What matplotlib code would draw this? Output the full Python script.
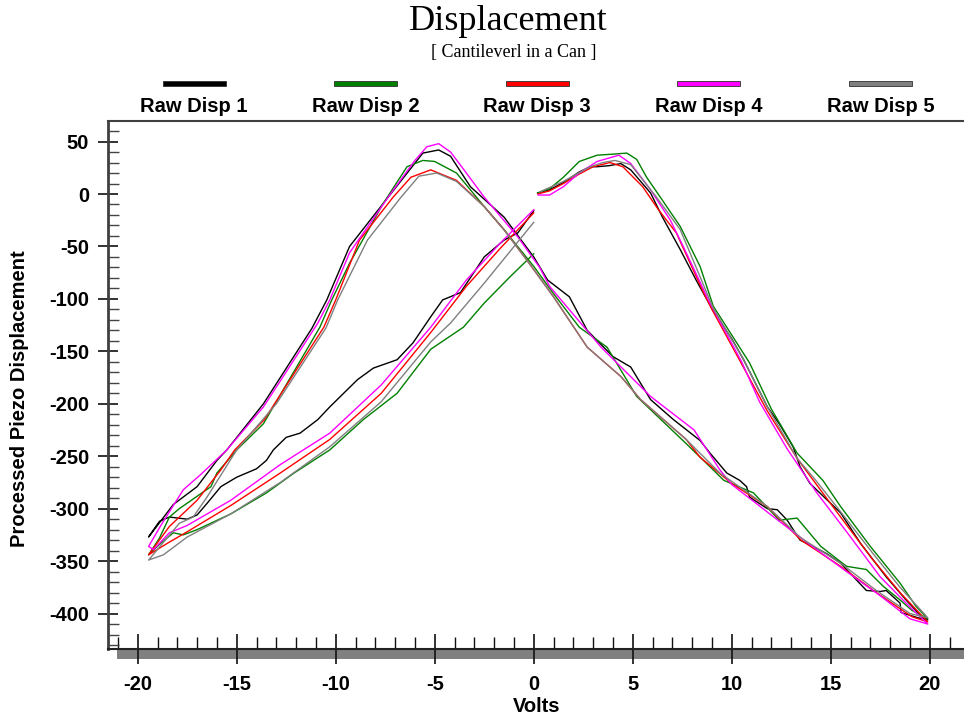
import matplotlib.pyplot as plt
from matplotlib.patches import Rectangle
from matplotlib.ticker import MultipleLocator

plt.rcParams["axes.unicode_minus"] = False

# each run sweeps 0 -> +20 V -> -19.5 V -> 0
labels = ["Raw Disp 1", "Raw Disp 2", "Raw Disp 3", "Raw Disp 4", "Raw Disp 5"]
colors = ["#000000", "#008000", "#ff0000", "#ff00ff", "#808080"]

volts_1 = [0.2, 0.8, 1.5, 2.3, 2.85, 3.2, 3.8, 4.4, 4.9, 5.9, 6.5, 7.4, 8.2, 9.05, 10.0, 10.6, 11.8, 12.4, 13.1,
           13.45, 13.95, 15.5, 16.5, 17.8, 18.8, 19.6, 19.9,
           19.4, 18.55, 18.5, 17.8, 17.5, 16.8, 15.5, 14.8, 14.0, 13.45, 12.8, 12.3, 11.8, 10.9, 10.75, 10.4, 9.75,
           8.9, 8.4, 7.05, 5.9, 4.9, 4.0, 2.7, 1.8, 0.7, 0.0, -1.5, -3.2, -4.2, -4.8, -5.6, -7.6, -9.3, -10.45,
           -11.2, -13.65, -15.5, -16.0, -17.0, -18.2, -19.45,
           -18.9, -18.4, -17.5, -17.0, -16.5, -15.8, -15.0, -14.0, -13.5, -13.15, -12.5, -11.8, -10.9, -10.3,
           -8.9, -8.1, -6.9, -6.1, -5.2, -4.6, -3.7, -2.5, -1.5, -0.8, 0.0]
disp_1 = [1, 4, 11, 21, 26, 26, 27, 29, 23, 1, -22, -53, -82, -111, -138, -158, -203, -219, -241,
          -260, -276, -304, -333, -365, -387, -403, -406,
          -404, -399, -390, -378, -379, -378, -352, -343, -335, -330, -311, -301, -300, -289, -279, -273, -266,
          -247, -235, -215, -196, -165, -155, -130, -98, -82, -60, -22, 7, 36, 42, 39, -9, -50, -101,
          -128, -200, -244, -254, -279, -296, -327,
          -312, -308, -310, -306, -295, -279, -270, -262, -254, -244, -232, -228, -215, -203,
          -177, -166, -158, -142, -117, -101, -94, -60, -44, -37, -16]

volts_2 = [0.2, 0.8, 1.5, 2.3, 3.2, 4.0, 4.7, 5.2, 5.7, 6.5, 7.4, 8.4, 9.07, 10.9, 12.0, 13.3, 14.6, 15.5, 17.0,
           18.5, 19.3, 19.9,
           19.1, 18.5, 17.65, 16.8, 15.8, 14.5, 13.3, 12.4, 11.1, 9.6, 8.9, 7.7, 5.2, 3.7, 2.3, 1.0, 0.0, -1.5,
           -2.5, -3.9, -5.0, -5.6, -6.4, -7.6, -9.3, -10.2, -10.8, -13.65, -15.0, -16.0, -16.3, -17.9, -18.4,
           -18.9, -19.45,
           -18.9, -18.2, -17.7, -17.0, -15.3, -13.5, -12.1, -10.3, -8.6, -6.9, -5.2, -3.55, -2.5, -1.2, 0.0]
disp_2 = [1, 5, 16, 31, 37, 38, 39, 33, 16, -6, -31, -69, -107, -161, -205, -247, -273, -298, -336,
          -371, -393, -405,
          -397, -387, -374, -358, -355, -336, -309, -311, -285, -273, -260, -238, -193, -146, -127, -95, -69, -34,
          -12, 20, 31, 32, 26, -9, -66, -101, -127, -219, -244, -266, -279, -300, -308,
          -328, -344,
          -334, -323, -325, -320, -305, -285, -266, -244, -215, -190, -148, -127, -104, -79, -57]

volts_3 = [0.2, 0.8, 1.5, 2.3, 3.0, 3.85, 4.5, 5.5, 6.3, 7.2, 8.6, 9.0, 10.5, 11.8, 13.3, 14.2, 15.5, 17.1, 18.5,
           19.9,
           19.1, 17.3, 15.5, 13.5, 11.8, 10.0, 8.4, 7.7, 5.4, 4.4, 2.7, 1.0, -0.35, -1.5, -2.5, -3.9, -5.2, -6.2,
           -7.1, -8.8, -10.0, -10.6, -13.6, -15.1, -15.8, -17.0, -18.4, -19.45,
           -18.5, -17.5, -15.3, -12.8, -10.3, -7.7, -5.2, -3.4, -1.7, 0.0]
disp_3 = [0, 3, 10, 19, 26, 30, 26, 7, -15, -37, -95, -110, -162, -207, -252, -275, -308, -348, -380,
          -408,
          -403, -380, -355, -330, -298, -276, -251, -234, -196, -174, -146, -98, -63, -34, -12, 13, 23, 16,
          -3, -44, -101, -127, -215, -244, -263, -292, -317, -344,
          -333, -322, -297, -266, -234, -190, -132, -88, -52, -18]

volts_4 = [0.23, 0.8, 1.5, 2.3, 3.2, 4.3, 4.9, 5.9, 6.9, 7.55, 8.9, 10.5, 11.4, 12.8, 14.3, 15.8, 17.5, 18.8,
           19.9,
           19.0, 17.5, 15.8, 14.0, 12.4, 11.1, 10.0, 9.4, 8.1, 5.9, 3.4, 0.8, 0.3, -0.8, -2.5, -3.6, -4.2, -4.8,
           -5.4, -6.0, -7.2, -9.3, -10.3, -10.9, -13.65, -15.5, -16.85, -17.7, -18.8, -19.45,
           -19.2, -18.4, -17.5, -15.3, -12.8, -10.3, -7.7, -5.2, -3.4, -1.7, 0.0]
disp_4 = [-1, -1, 7, 20, 31, 37, 29, 4, -25, -50, -104, -160, -198, -243, -285, -322, -365, -390,
          -410,
          -405, -383, -360, -335, -312, -293, -277, -263, -225, -193, -146, -88, -70, -41, -3, 25, 40, 48,
          45, 32, 1, -56, -101, -123, -203, -244, -268, -282, -315, -336,
          -339, -323, -316, -292, -258, -228, -182, -127, -82, -47, -15]

volts_5 = [0.3, 1.5, 2.85, 3.5, 4.1, 4.9, 6.2, 7.4, 9.07, 10.6, 11.8, 13.3, 14.2, 15.5, 17.1, 18.5, 19.9,
           19.0, 17.3, 15.5, 13.5, 11.8, 10.0, 9.4, 7.7, 5.4, 4.4, 2.7, 1.0, -0.35, -1.5, -2.5, -3.9, -4.9,
           -5.8, -6.7, -8.4, -9.9, -10.5, -13.0, -15.0, -16.5, -17.2, -17.9, -19.45,
           -18.7, -17.5, -15.3, -12.8, -10.3, -7.7, -5.2, -4.2, -2.5, 0.0]
disp_5 = [2, 12, 26, 30, 32, 28, -3, -34, -109, -158, -203, -252, -272, -303, -342, -375, -404,
          -400, -378, -352, -328, -298, -274, -266, -234, -196, -174, -146, -98, -63, -34, -12, 12, 20,
          17, -3, -44, -101, -128, -200, -244, -289, -308, -314, -349,
          -344, -327, -305, -275, -241, -198, -141, -123, -85, -27]

volts = [volts_1, volts_2, volts_3, volts_4, volts_5]
disps = [disp_1, disp_2, disp_3, disp_4, disp_5]

W, H = 964, 717
fig = plt.figure(figsize=(W / 100, H / 100), dpi=100)
ax = fig.add_axes([108 / W, 1 - 649 / H, 856 / W, 528 / H])

for v, d, c in zip(volts, disps, colors):
    ax.plot(v, d, color=c, lw=1.0)

ax.set_xlim(-21.5, 21.73)
ax.set_ylim(-433.8, 69.6)

ax.xaxis.set_major_locator(MultipleLocator(5))
ax.xaxis.set_minor_locator(MultipleLocator(1))
ax.yaxis.set_major_locator(MultipleLocator(50))
ax.yaxis.set_minor_locator(MultipleLocator(10))

ax.tick_params(axis="x", which="major", direction="inout", length=21.6, width=1.2, pad=8, color="#111111")
ax.tick_params(axis="x", which="minor", direction="in", length=8.6, width=1.0, color="#111111")
ax.tick_params(axis="y", which="major", direction="inout", length=15, width=1.2, pad=6, color="#111111")
ax.tick_params(axis="y", which="minor", direction="in", length=8, width=1.0, color="#444444")

tick_font = dict(family="Liberation Sans", weight="bold", size=14.5)
for lab in ax.get_xticklabels() + ax.get_yticklabels():
    lab.set_fontproperties(tick_font)
    lab.set_fontweight("bold")

ax.spines["right"].set_visible(False)
ax.spines["left"].set_color("#404040")
ax.spines["left"].set_linewidth(2)
ax.spines["top"].set_color("#404040")
ax.spines["top"].set_linewidth(1.5)
ax.spines["bottom"].set_color("#222222")
ax.spines["bottom"].set_linewidth(1.5)

# grey base bar under the volts axis
ax.add_patch(Rectangle((9 / 856, -10 / 528), 1, 10 / 528, transform=ax.transAxes,
                       facecolor="#808080", edgecolor="none", clip_on=False, zorder=0.5))

fig.text(508 / W, 1 - 22 / H, "Displacement", family="Liberation Serif", size=26,
         ha="center", va="center")
fig.text(514 / W, 1 - 52 / H, "[ Cantileverl in a Can ]", family="Liberation Serif", size=13,
         ha="center", va="center")

# legend row: swatch above each label
for i, (lab, c) in enumerate(zip(labels, colors)):
    xc = 194 + 171.6 * i
    fig.add_artist(Rectangle(((xc - 31.5) / W, 1 - 86 / H), 63 / W, 5 / H, transform=fig.transFigure,
                             facecolor=c, edgecolor="#303030", lw=0.6))
    fig.text(xc / W, 1 - 106 / H, lab, family="Liberation Sans", weight="bold", size=14.5,
             ha="center", va="center")

fig.text(537 / W, 1 - 706 / H, "Volts", family="Liberation Sans", weight="bold", size=14.5,
         ha="center", va="center")
fig.text(20 / W, 1 - 399 / H, "Processed Piezo Displacement", family="Liberation Sans", weight="bold",
         size=14.5, rotation=90, ha="center", va="center")

fig.savefig("out.png", dpi=100)
